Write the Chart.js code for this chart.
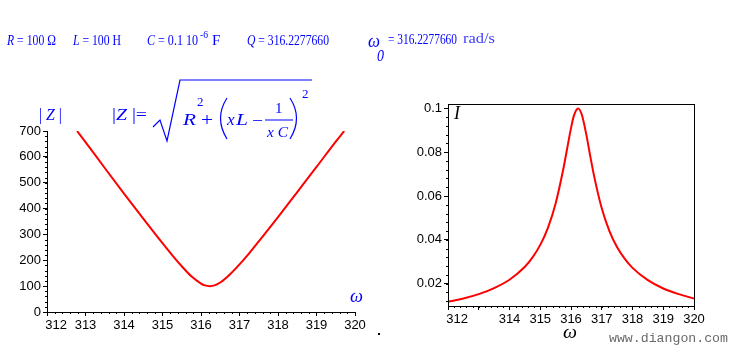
<!DOCTYPE html>
<html>
<head>
<meta charset="utf-8">
<script src="https://cdn.jsdelivr.net/npm/chart.js@4"></script>
<style>
  body { margin:0; background:#fff; width:734px; height:349px; overflow:hidden; position:relative; }
  canvas, svg { position:absolute; left:0; top:0; }
  svg { pointer-events:none; }
</style>
</head>
<body>
<canvas id="zChart" width="734" height="349"></canvas>
<canvas id="iChart" width="734" height="349"></canvas>

<svg width="734" height="349" font-family="Liberation Serif, serif" fill="#0000ff">
  <!-- header line -->
  <text x="7" y="45" font-size="15" textLength="49" lengthAdjust="spacingAndGlyphs"><tspan font-style="italic">R</tspan> = 100 Ω</text>
  <text x="73" y="45" font-size="15" textLength="48" lengthAdjust="spacingAndGlyphs"><tspan font-style="italic">L</tspan> = 100 H</text>
  <text x="147" y="45" font-size="15" textLength="51" lengthAdjust="spacingAndGlyphs"><tspan font-style="italic">C</tspan> = 0.1 10</text>
  <text x="200" y="38" font-size="11" textLength="8" lengthAdjust="spacingAndGlyphs">-6</text>
  <text x="212" y="45" font-size="15">F</text>
  <text x="247" y="45" font-size="15" textLength="82" lengthAdjust="spacingAndGlyphs"><tspan font-style="italic">Q</tspan> = 316.2277660</text>
  <text x="368" y="47" font-size="18" font-style="italic" textLength="12" lengthAdjust="spacingAndGlyphs">ω</text>
  <text x="377" y="61" font-size="17" font-style="italic" textLength="7" lengthAdjust="spacingAndGlyphs">0</text>
  <text x="388" y="44" font-size="15" textLength="69" lengthAdjust="spacingAndGlyphs">= 316.2277660</text>
  <text x="463" y="43" font-size="15" fill="#3c3cff" textLength="32" lengthAdjust="spacingAndGlyphs">rad/s</text>

  <!-- |Z| formula -->
  <text x="39" y="120" font-size="16" textLength="23" lengthAdjust="spacingAndGlyphs">| <tspan font-style="italic">Z</tspan> |</text>
  <text x="112" y="120" font-size="16" textLength="35" lengthAdjust="spacingAndGlyphs">|<tspan font-style="italic">Z</tspan> |=</text>
  <polyline points="153,127 160,120 167,141 180,80 312,80" fill="none" stroke="#0000ff" stroke-width="1.2"/>
  <text x="183" y="125" font-size="17" font-style="italic" textLength="13" lengthAdjust="spacingAndGlyphs">R</text>
  <text x="197" y="106" font-size="13">2</text>
  <text x="201" y="126" font-size="18" textLength="12" lengthAdjust="spacingAndGlyphs">+</text>
  <path d="M227,98 Q214,118 227,139" fill="none" stroke="#0000ff" stroke-width="1.2"/>
  <text x="227" y="125" font-size="17" font-style="italic">x</text>
  <text x="236" y="125" font-size="17" font-style="italic" textLength="12" lengthAdjust="spacingAndGlyphs">L</text>
  <text x="252" y="126" font-size="17" textLength="11" lengthAdjust="spacingAndGlyphs">−</text>
  <text x="275" y="113" font-size="15">1</text>
  <line x1="265" y1="120" x2="293" y2="120" stroke="#0000ff" stroke-width="1"/>
  <text x="267" y="137" font-size="15" font-style="italic" textLength="21" lengthAdjust="spacingAndGlyphs">x C</text>
  <path d="M290,98 Q303,118 290,139" fill="none" stroke="#0000ff" stroke-width="1.2"/>
  <text x="302" y="98" font-size="13">2</text>

  <!-- axis names -->
  <text x="350" y="302" font-size="18" font-style="italic" textLength="13" lengthAdjust="spacingAndGlyphs">ω</text>
  <text x="563" y="338" font-size="18" font-style="italic" fill="#000" textLength="14" lengthAdjust="spacingAndGlyphs">ω</text>
  <text x="454" y="119" font-size="18" font-style="italic" fill="#000">I</text>

  <text x="609" y="342" font-family="Liberation Mono, monospace" font-size="13" fill="#6a6a6a" textLength="119" lengthAdjust="spacingAndGlyphs">www.diangon.com</text>
  <rect x="378" y="333" width="2" height="2" fill="#000"/>
</svg>

<script>
// impedance curve |Z| vs omega (left plot)
const omegaZ = [312.78, 313.0, 313.5, 314.0, 314.5, 315.0, 315.25, 315.5, 315.75, 316.0, 316.1, 316.23,
                316.35, 316.5, 316.75, 317.0, 317.25, 317.5, 318.0, 318.5, 319.0, 319.5, 319.72];
const zMag = [700, 657, 557, 458, 361, 266, 220, 177, 138, 110, 103, 100,
              103, 114, 145, 184, 227, 273, 367, 464, 561, 659, 700];
const zXTicks = [312, 313, 314, 315, 316, 317, 318, 319, 320];
const zXLabels = ['     312', '313', '314', '315', '316', '317', '318', '319', '320'];
const zYTicks = [0, 100, 200, 300, 400, 500, 600, 700];
const zYLabels = ['0', '100', '200', '300', '400', '500', '600', '700'];

// current curve I vs omega (right plot)
const omegaI = [312.0, 312.5, 313.0, 313.5, 314.0, 314.5, 314.75, 315.0, 315.25, 315.5, 315.75, 315.9, 316.0, 316.1,
                316.23, 316.35, 316.5, 316.6, 316.75, 317.0, 317.25, 317.5, 317.75, 318.0, 318.5, 319.0, 319.5, 320.0];
const current = [0.0117, 0.0132, 0.0152, 0.0180, 0.0218, 0.0277, 0.0320, 0.0377, 0.0455, 0.0566, 0.0723, 0.0836, 0.0910, 0.0969,
                 0.1000, 0.0972, 0.0879, 0.0802, 0.0692, 0.0544, 0.0440, 0.0366, 0.0313, 0.0272, 0.0216, 0.0178, 0.0152, 0.0132];
const iXTicks = [312, 313, 314, 315, 316, 317, 318, 319, 320];
const iXLabels = ['     312', '', '314', '315', '316', '317', '318', '319', '320'];
const iYTicks = [0.02, 0.04, 0.06, 0.08, 0.1];
const iYLabels = ['0.02', '0.04', '0.06', '0.08', '0.1'];

const tickFont = {family: 'Liberation Sans, Arial, sans-serif', size: 13};

// small minor ticks like the maple axes
const minorTicks = {
  id: 'minorTicks',
  afterDraw(chart, args, opts){
    const {ctx, chartArea: a, scales: {x, y}} = chart;
    ctx.save();
    ctx.strokeStyle = '#000'; ctx.lineWidth = 1;
    ctx.beginPath();
    for(let v = Math.ceil(x.min / opts.x - 1e-6) * opts.x; v <= x.max + 1e-9; v += opts.x){
      const px = Math.round(x.getPixelForValue(v)) + 0.5;
      ctx.moveTo(px, a.bottom); ctx.lineTo(px, a.bottom + 2);
    }
    for(let v = Math.ceil(y.min / opts.y - 1e-6) * opts.y; v <= y.max + 1e-9; v += opts.y){
      const py = Math.round(y.getPixelForValue(v)) + 0.5;
      ctx.moveTo(a.left, py); ctx.lineTo(a.left - 2, py);
    }
    ctx.stroke();
    if(opts.frame){
      ctx.strokeRect(Math.round(a.left) + 0.5, Math.round(a.top) + 0.5,
                     Math.round(a.right - a.left), Math.round(a.bottom - a.top));
    }
    ctx.restore();
  }
};

function axis(min, max, vals, labels, isX){
  return {
    type: 'linear', min, max,
    afterBuildTicks: s => { s.ticks = vals.map(v => ({value: v})); },
    afterFit: s => { if(isX) s.height = 30; else s.width = 50; },
    ticks: {
      callback: (v, i) => labels[i],
      color: '#000', font: tickFont, padding: 2,
      autoSkip: false, maxRotation: 0
    },
    grid: {drawOnChartArea: false, tickLength: 4, color: '#000'},
    border: {color: '#000', width: 1}
  };
}

function makeChart(id, xs, ys, xAxis, yAxis, pad, minor){
  return new Chart(document.getElementById(id), {
    type: 'line',
    data: {datasets: [{
      data: xs.map((x, i) => ({x, y: ys[i]})),
      borderColor: '#ff0000', borderWidth: 2, pointRadius: 0,
      cubicInterpolationMode: 'monotone', fill: false
    }]},
    options: {
      responsive: false, animation: false, events: [],
      layout: {padding: pad},
      plugins: {legend: {display: false}, tooltip: {enabled: false}, minorTicks: minor},
      scales: {x: xAxis, y: yAxis}
    },
    plugins: [minorTicks]
  });
}

makeChart('zChart', omegaZ, zMag,
  axis(312, 320, zXTicks, zXLabels, true),
  axis(0, 700, zYTicks, zYLabels, false),
  {left: -3, top: 131, right: 379, bottom: 7},
  {x: 0.2, y: 20, frame: false});

makeChart('iChart', omegaI, current,
  axis(312, 320, iXTicks, iXLabels, true),
  axis(0.0098, 0.102, iYTicks, iYLabels, false),
  {left: 398, top: 104, right: 40, bottom: 13},
  {x: 0.2, y: 0.004, frame: true});
</script>
</body>
</html>
